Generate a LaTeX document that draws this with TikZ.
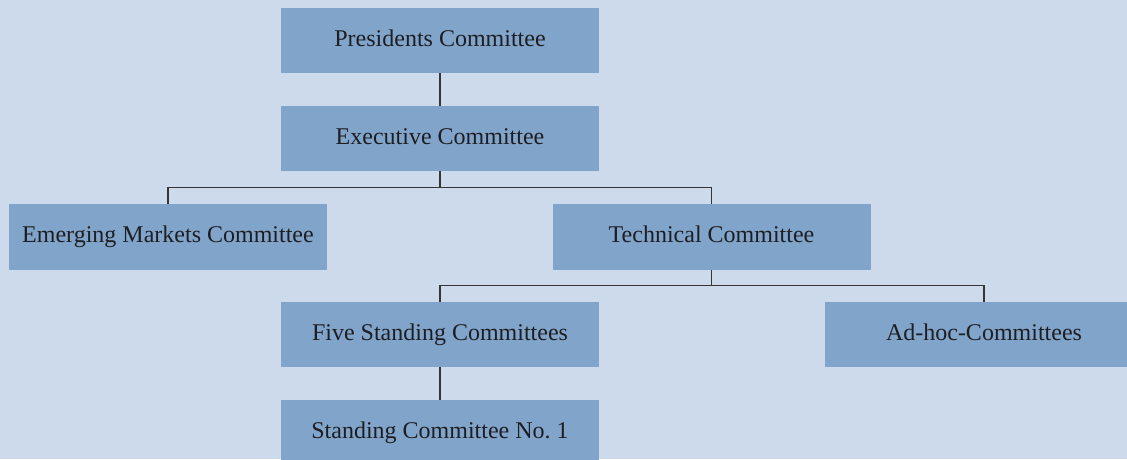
\documentclass[tikz,border=0pt]{standalone}
\usepackage{xcolor}
\usepackage{fontspec}
\setmainfont{Liberation Serif}

\definecolor{paneblue}{HTML}{CDDAEB}
\definecolor{boxblue}{HTML}{81A5CA}
\definecolor{inkgrey}{HTML}{1E1E22}

\tikzset{
    committee/.style={fill=boxblue, text=inkgrey, minimum width=318, minimum height=65.5,
        inner sep=0pt, text height=16pt, text depth=5pt, font=\fontsize{24}{28}\selectfont},
    link/.style={draw=inkgrey!90, line width=1.3pt},
}

\begin{document}
\begin{tikzpicture}[x=1pt, y=-1pt]
        \fill[paneblue] (0,0) rectangle (1127,459);
        \useasboundingbox (0,0) rectangle (1127,459);

            \node[committee] (pres)  at (440,40.5)   {Presidents Committee};
            \node[committee] (exec)  at (440,138.5)  {Executive Committee};
            \node[committee] (emerg) at (168,237)    {Emerging Markets Committee};
            \node[committee] (tech)  at (711.5,237)  {Technical Committee};
            \node[committee] (five)  at (440,334.5)  {Five Standing Committees};
            \node[committee] (adhoc) at (984,334.5)  {Ad-hoc-Committees};
            \node[committee] (std1)  at (440,432.5)  {Standing Committee No.~1};

            \coordinate (j1) at (440,187.5);
            \coordinate (j2) at (711.5,285.5);

            \draw[link] (pres) -- (exec);
            \draw[link] (exec) -- (j1);
            \draw[link] (emerg.north) |- (j1) -| (tech.north);
            \draw[link] (tech) -- (j2);
            \draw[link] (five.north) |- (j2) -| (adhoc.north);
            \draw[link] (five) -- (std1);

\end{tikzpicture}
\end{document}
